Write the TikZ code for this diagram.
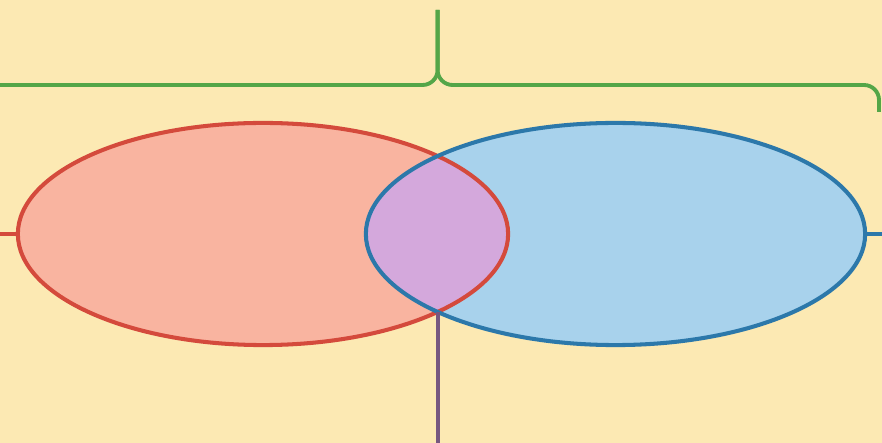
\documentclass[tikz,border=0pt]{standalone}
\usetikzlibrary{shapes.geometric}
\definecolor{paper}{RGB}{252,233,179}
\definecolor{redfill}{RGB}{249,180,160}
\definecolor{redline}{RGB}{212,74,60}
\definecolor{bluefill}{RGB}{168,210,236}
\definecolor{blueline}{RGB}{44,120,170}
\definecolor{bothfill}{RGB}{212,168,220}
\definecolor{bracecol}{RGB}{84,166,72}
\definecolor{stemcol}{RGB}{118,88,128}

\begin{document}
\begin{tikzpicture}[x=0.01cm,y=-0.01cm,
  setA/.style={ellipse,inner sep=0pt,minimum width=4.90cm,minimum height=2.22cm,draw=redline,line width=1.15pt},
  setB/.style={ellipse,inner sep=0pt,minimum width=4.99cm,minimum height=2.22cm,draw=blueline,line width=1.15pt},
  brace/.style={bracecol,line width=1.1pt,rounded corners=0.15cm}]
  \fill[paper] (0,0) rectangle (882,443);
  \clip (0,0) rectangle (882,443);
  % fills first, overlap on top
  \fill[redfill] (263,234) ellipse (245 and 111);
  \fill[bluefill] (615.5,234) ellipse (249.5 and 111);
  \begin{scope}
    \clip (263,234) ellipse (245 and 111);
    \fill[bothfill] (615.5,234) ellipse (249.5 and 111);
  \end{scope}
  \node[setA] (A) at (263,234) {};
  \node[setB] (B) at (615.5,234) {};
  \coordinate (lt) at (0,234);
  \coordinate (rt) at (882,234);
  \coordinate (meet) at (437.6,312);
  \coordinate (foot) at (437.6,443);
  \draw[redline,line width=1.1pt] (lt) -- (A.west);
  \draw[blueline,line width=1.1pt] (B.east) -- (rt);
  \draw[stemcol,line width=1.1pt] (meet) -- (foot);
  % brace over both sets
  \draw[brace] (-30,112) -- (-30,85) -- (437.6,85) -- (437.6,10);
  \draw[brace] (879,112) -- (879,85) -- (437.6,85) -- (437.6,10);
\end{tikzpicture}
\end{document}
